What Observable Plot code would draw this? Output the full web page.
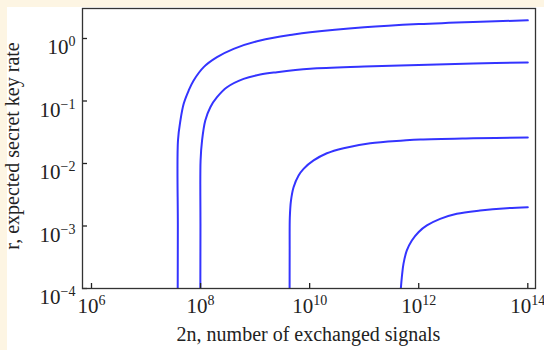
<!DOCTYPE html>
<html>
<head>
<meta charset="utf-8">
<script src="https://cdn.jsdelivr.net/npm/d3@7"></script>
<script src="https://cdn.jsdelivr.net/npm/@observablehq/plot@0.6"></script>
<style>
  html, body { margin: 0; padding: 0; background: #fdf5e3; width: 544px; height: 350px; overflow: hidden; }
  #panel { position: absolute; left: 7px; top: 7px; width: 537px; height: 343px; background: #ffffff; }
  #chart { position: absolute; left: 0; top: 0; }
</style>
</head>
<body>
<div id="panel"></div>
<div id="chart"></div>
<script>
// ---- Data ----
const xTicks = [1e6, 1e8, 1e10, 1e12, 1e14];
const yTicks = [1e-4, 1e-3, 1e-2, 1e-1, 1e0];
const xLabel = "2n, number of exchanged signals";
const yLabel = "r, expected secret key rate";

const curve1X = [3.81e7, 3.83e7, 3.85e7, 4.27e7, 4.90e7, 6.05e7, 7.46e7, 1.14e8, 2.00e8, 4.04e8, 1.24e9, 5.07e9, 1.02e10, 1e11, 1e12, 1e13, 1e14];
const curve1Y = [1e-4, 1e-3, 0.0233, 0.0488, 0.0902, 0.147, 0.213, 0.348, 0.502, 0.684, 0.929, 1.16, 1.26, 1.51, 1.70, 1.84, 1.95];

const curve2X = [9.90e7, 9.95e7, 1.0e8, 1.064e8, 1.22e8, 1.51e8, 2.00e8, 3.05e8, 6.15e8, 1.24e9, 2.52e9, 1.02e10, 1e11, 1e12, 1e13, 1e14];
const curve2Y = [1e-4, 1e-3, 0.0112, 0.0233, 0.0488, 0.0796, 0.115, 0.166, 0.226, 0.265, 0.289, 0.327, 0.355, 0.378, 0.398, 0.413];

const curve3X = [4.29e9, 4.30e9, 4.33e9, 4.55e9, 5.07e9, 6.27e9, 7.73e9, 1.18e10, 2.07e10, 4.18e10, 1.29e11, 5.25e11, 1.07e12, 1e13, 1e14];
const curve3Y = [1e-4, 4e-4, 1.38e-3, 2.56e-3, 4.18e-3, 6.43e-3, 8.22e-3, 0.0112, 0.0146, 0.0176, 0.0211, 0.0233, 0.0242, 0.0253, 0.0261];

const curve4X = [4.70e11, 4.90e11, 5.25e11, 6.05e11, 7.48e11, 9.89e11, 1.41e12, 2.47e12, 4.99e12, 1.33e13, 4.10e13, 1e14];
const curve4Y = [1e-4, 1.52e-4, 2.48e-4, 4.06e-4, 5.86e-4, 7.96e-4, 1.02e-3, 1.30e-3, 1.57e-3, 1.77e-3, 1.93e-3, 2.0e-3];

const xDomain = [Math.pow(10, 5.835), Math.pow(10, 14.141)];
const yDomain = [1e-4, Math.pow(10, 0.48)];

// ---- Build table ----
const series = [
  {name: "c1", xs: curve1X, ys: curve1Y},
  {name: "c2", xs: curve2X, ys: curve2Y},
  {name: "c3", xs: curve3X, ys: curve3Y},
  {name: "c4", xs: curve4X, ys: curve4Y}
];
const rows = series.flatMap(s => s.xs.map((x, i) => ({series: s.name, x, y: s.ys[i]})));

const expFmt = d => "10^" + Math.round(Math.log10(d));

const chart = Plot.plot({
  width: 544,
  height: 350,
  marginLeft: 82,
  marginRight: 9,
  marginTop: 8,
  marginBottom: 62,
  style: {fontFamily: "'Liberation Serif', 'Times New Roman', serif", fontSize: "21px", background: "transparent", color: "#222"},
  x: {type: "log", domain: xDomain},
  y: {type: "log", domain: yDomain},
  marks: [
    Plot.line(rows, {x: "x", y: "y", z: "series", stroke: "#3434ff", strokeWidth: 2, curve: "catmull-rom", clip: true}),
    Plot.axisX(xTicks, {anchor: "bottom", tickSize: -5, fill: "none", stroke: "#222", strokeWidth: 1.3}),
    Plot.axisY(yTicks, {anchor: "left", tickSize: -5, fill: "none", stroke: "#222", strokeWidth: 1.3}),
    Plot.axisX(xTicks, {anchor: "bottom", tickSize: 0, tickPadding: 10, tickFormat: expFmt, label: null, fill: "#222"}),
    Plot.axisY(yTicks, {anchor: "left", tickSize: 0, tickPadding: 7, tickFormat: expFmt, label: null, fill: "#222"}),
    Plot.frame({stroke: "#333", strokeWidth: 1.3})
  ]
});

document.getElementById("chart").appendChild(chart);

// Superscript exponents in tick labels
const svg = d3.select(chart);
svg.selectAll("text").each(function() {
  const t = this.textContent;
  const m = /^10\^(-?\d+)$/.exec(t);
  if (!m) return;
  const sel = d3.select(this);
  sel.text("10");
  const exp = m[1].replace("-", "\u2212");
  sel.append("tspan").attr("dy", "-8").attr("font-size", "14px").text(exp);
});
// Nudge y tick labels slightly downward
svg.selectAll('g[aria-label="y-axis tick label"] text').attr("dy", "0.42em");

// Axis titles
svg.append("text")
  .attr("x", 308.5).attr("y", 341)
  .attr("text-anchor", "middle")
  .attr("fill", "#222")
  .style("font-size", "20px")
  .text(xLabel);
svg.append("text")
  .attr("transform", "translate(18.5,146) rotate(-90)")
  .attr("text-anchor", "middle")
  .attr("fill", "#222")
  .style("font-size", "20px")
  .text(yLabel);
</script>
</body>
</html>
